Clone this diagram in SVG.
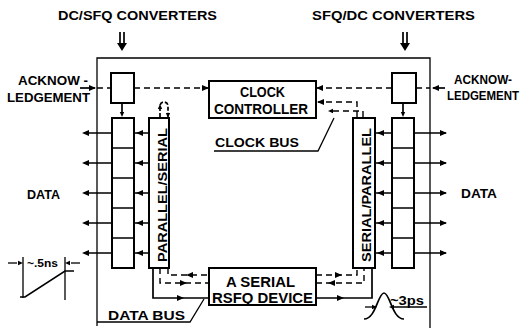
<svg xmlns="http://www.w3.org/2000/svg" xmlns:xlink="http://www.w3.org/1999/xlink" width="524" height="328" viewBox="0 0 524 328">
<style>
.t{font-family:"Liberation Sans",Arial,sans-serif;font-weight:bold;fill:#000}
.box{fill:#fff;stroke:#000;stroke-width:2}
.ln{stroke:#000;stroke-width:1.7;fill:none}
.fr{stroke:#000;stroke-width:1.3;fill:none}
.ds{stroke:#000;stroke-width:1.4;fill:none;stroke-dasharray:6 4}
</style>
<defs>
<path id="ah" d="M0,0 L-7,-3 L-7,3 Z" fill="#000"/>
<path id="as" d="M0,0 L-5,-2.2 L-5,2.2 Z" fill="#000"/>
</defs>
<rect width="524" height="328" fill="#fff"/>

<g id="hdr-left">
<text class="t" x="58" y="20" font-size="13" textLength="159" lengthAdjust="spacingAndGlyphs">DC/SFQ CONVERTERS</text>
<path class="ln" d="M120,32 V45 M124,32 V45"/><path d="M117,43 L127,43 L122,51 Z" fill="#000"/>
</g>
<g id="hdr-right">
<text class="t" x="312" y="20" font-size="13" textLength="163" lengthAdjust="spacingAndGlyphs">SFQ/DC CONVERTERS</text>
<path class="ln" d="M403,32 V45 M407,32 V45"/><path d="M400,43 L410,43 L405,51 Z" fill="#000"/>
</g>

<path class="fr" d="M97,326 V58 H430 V328"/>

<g id="ack-left">
<text class="t" x="18" y="85" font-size="12" textLength="70" lengthAdjust="spacingAndGlyphs">ACKNOW -</text>
<text class="t" x="7" y="102" font-size="12" textLength="83" lengthAdjust="spacingAndGlyphs">LEDGEMENT</text>
</g>
<g id="ack-right">
<text class="t" x="454" y="84" font-size="12" textLength="58" lengthAdjust="spacingAndGlyphs">ACKNOW-</text>
<text class="t" x="447" y="100" font-size="12" textLength="72" lengthAdjust="spacingAndGlyphs">LEDGEMENT</text>
</g>

<g id="dcsfq-top"><rect class="box" x="111" y="73" width="23" height="30"/></g>
<g id="sfqdc-top"><rect class="box" x="392" y="73" width="24" height="30"/></g>

<g id="clock-controller">
<rect class="box" x="209" y="81" width="107" height="37"/>
<text class="t" x="240" y="97" font-size="14" textLength="45" lengthAdjust="spacingAndGlyphs">CLOCK</text>
<text class="t" x="214" y="114" font-size="14" textLength="94" lengthAdjust="spacingAndGlyphs">CONTROLLER</text>
</g>

<g id="left-register">
<rect class="box" x="112" y="118" width="22" height="150"/>
<path class="ln" d="M112,148 H134 M112,178 H134 M112,208 H134 M112,238 H134"/>
</g>
<g id="ps-box">
<rect class="box" x="149" y="118" width="20" height="150"/>
<text class="t" transform="translate(167,262) rotate(-90)" font-size="13" textLength="134" lengthAdjust="spacingAndGlyphs">PARALLEL/SERIAL</text>
</g>
<g id="sp-box">
<rect class="box" x="353" y="118" width="22" height="150"/>
<text class="t" transform="translate(371,262) rotate(-90)" font-size="13" textLength="134" lengthAdjust="spacingAndGlyphs">SERIAL/PARALLEL</text>
</g>
<g id="right-register">
<rect class="box" x="392" y="118" width="22" height="150"/>
<path class="ln" d="M392,148 H414 M392,178 H414 M392,208 H414 M392,238 H414"/>
</g>

<g id="rsfq-device">
<rect class="box" x="209" y="268" width="107" height="37"/>
<text class="t" x="226" y="287" font-size="14" textLength="69" lengthAdjust="spacingAndGlyphs">A SERIAL</text>
<text class="t" x="212" y="303" font-size="14" textLength="101" lengthAdjust="spacingAndGlyphs">RSFQ DEVICE</text>
</g>

<g id="labels">
<text class="t" x="27" y="199" font-size="12" textLength="33" lengthAdjust="spacingAndGlyphs">DATA</text>
<text class="t" x="461" y="198" font-size="12" textLength="36" lengthAdjust="spacingAndGlyphs">DATA</text>
<text class="t" x="215" y="147" font-size="13" textLength="84" lengthAdjust="spacingAndGlyphs">CLOCK BUS</text>
<text class="t" x="108" y="320" font-size="13" textLength="77" lengthAdjust="spacingAndGlyphs">DATA  BUS</text>
<text class="t" x="27" y="267" font-size="11" textLength="31" lengthAdjust="spacingAndGlyphs">~.5ns</text>
<text class="t" x="390" y="305" font-size="13" textLength="34" lengthAdjust="spacingAndGlyphs">~3ps</text>
</g>

<g id="connectors">
<path class="ds" d="M97,88 H111"/>
<path class="ln" d="M80,88 H95"/><use xlink:href="#ah" transform="translate(96,88)"/>
<path class="ds" d="M134,88 H208"/><use xlink:href="#ah" transform="translate(209,88)"/>
<path class="ds" d="M392,88 H317"/><use xlink:href="#ah" transform="translate(316,88) rotate(180)"/>
<path class="ds" d="M416,88 H430"/>
<path class="ln" d="M433,88 H445"/><use xlink:href="#ah" transform="translate(432,88) rotate(180)"/>
<path class="ln" d="M122,103 V112"/><use xlink:href="#as" transform="translate(122,117) rotate(90)"/>
<path class="ln" d="M403,103 V112"/><use xlink:href="#as" transform="translate(403,117) rotate(90)"/>
<path class="ln" d="M160,117 V106 A4,4 0 0 1 168,106 V117" stroke-width="1.2" stroke-dasharray="4 2"/>
<use xlink:href="#as" transform="translate(160,104) rotate(-90)"/>
<use xlink:href="#as" transform="translate(168,118) rotate(90)"/>
<path class="ds" d="M357,117 V102 H318"/><use xlink:href="#ah" transform="translate(317,102) rotate(180)"/>
<path class="ds" d="M363,117 V111 H331"/><use xlink:href="#as" transform="translate(328,111) rotate(180)"/>
<path class="fr" d="M214,151 H318 L334,118"/>
<path class="ln" d="M112,133 H86 M112,163 H86 M112,193 H86 M112,223 H86 M112,253 H86"/>
<use xlink:href="#ah" transform="translate(82,133) rotate(180)"/>
<use xlink:href="#ah" transform="translate(82,163) rotate(180)"/>
<use xlink:href="#ah" transform="translate(82,193) rotate(180)"/>
<use xlink:href="#ah" transform="translate(82,223) rotate(180)"/>
<use xlink:href="#ah" transform="translate(82,253) rotate(180)"/>
<path class="ln" d="M149,133 H134 M149,163 H134 M149,193 H134 M149,223 H134 M149,253 H134"/>
<use xlink:href="#ah" transform="translate(136,133) rotate(180)"/>
<use xlink:href="#ah" transform="translate(136,163) rotate(180)"/>
<use xlink:href="#ah" transform="translate(136,193) rotate(180)"/>
<use xlink:href="#ah" transform="translate(136,223) rotate(180)"/>
<use xlink:href="#ah" transform="translate(136,253) rotate(180)"/>
<path class="ln" d="M414,133 H446 M414,163 H446 M414,193 H446 M414,223 H446 M414,253 H446"/>
<use xlink:href="#ah" transform="translate(447,133)"/>
<use xlink:href="#ah" transform="translate(447,163)"/>
<use xlink:href="#ah" transform="translate(447,193)"/>
<use xlink:href="#ah" transform="translate(447,223)"/>
<use xlink:href="#ah" transform="translate(447,253)"/>
<path class="ln" d="M375,133 H392 M375,163 H392 M375,193 H392 M375,223 H392 M375,253 H392"/>
<use xlink:href="#ah" transform="translate(377,133) rotate(180)"/>
<use xlink:href="#ah" transform="translate(377,163) rotate(180)"/>
<use xlink:href="#ah" transform="translate(377,193) rotate(180)"/>
<use xlink:href="#ah" transform="translate(377,223) rotate(180)"/>
<use xlink:href="#ah" transform="translate(377,253) rotate(180)"/>
<path class="ln" d="M153,268 V298 H209"/><use xlink:href="#ah" transform="translate(184,298)"/>
<path class="ln" d="M316,298 H372 V268"/><use xlink:href="#ah" transform="translate(344,298)"/>
<path class="ds" d="M160,268 V283 H209"/><use xlink:href="#ah" transform="translate(187,283)"/>
<path class="ds" d="M168,268 V275 H209"/><use xlink:href="#ah" transform="translate(186,275) rotate(180)"/>
<path class="ds" d="M316,275 H357 V268"/><use xlink:href="#ah" transform="translate(342,275)"/>
<path class="ds" d="M316,283 H364 V268"/><use xlink:href="#ah" transform="translate(328,283) rotate(180)"/>
<path class="fr" d="M97,322 H190 L204,299"/>
<path class="fr" d="M23,257 V298 M65,257 V300"/>
<path class="fr" d="M8,263 H17"/><use xlink:href="#as" transform="translate(23,263)"/>
<path class="fr" d="M80,263 H71"/><use xlink:href="#as" transform="translate(65,263) rotate(180)"/>
<path class="ln" d="M20,297 H25 L65,271 H74"/>
<path class="ln" d="M364,319 C376,319 378,293 384,293 C390,293 392,319 404,319"/>
<path class="fr" d="M365,307 H372"/><use xlink:href="#as" transform="translate(377,307)"/>
<path class="fr" d="M394,307 H427"/><use xlink:href="#as" transform="translate(389,307) rotate(180)"/>
</g>
</svg>
